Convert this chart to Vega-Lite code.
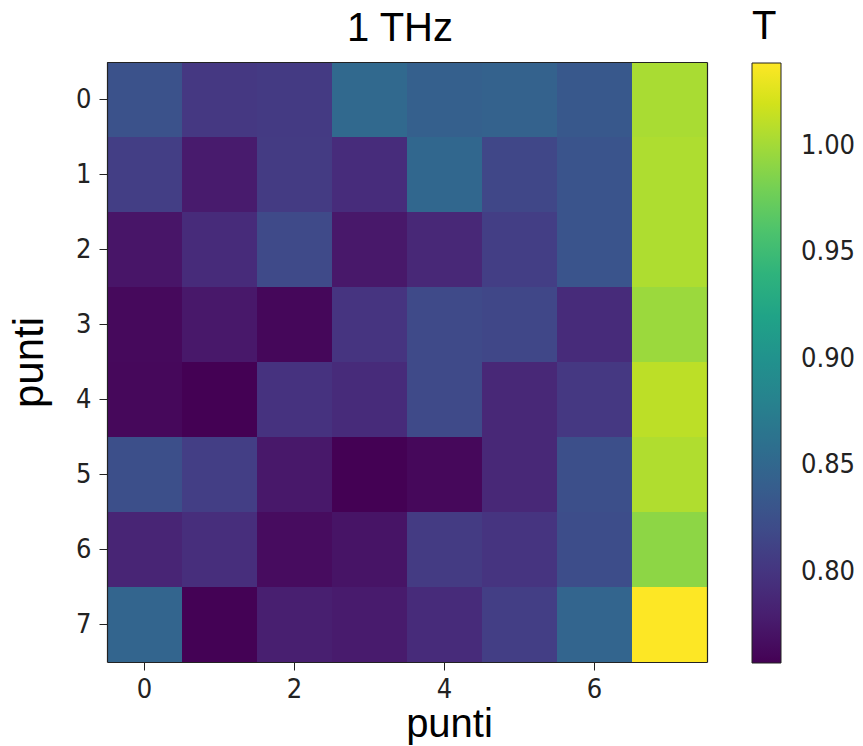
{
  "$schema": "https://vega.github.io/schema/vega-lite/v6.json",
  "width": 600,
  "height": 600,
  "autosize": {"type": "none"},
  "padding": {"left": 107, "top": 62, "right": 156, "bottom": 84},
  "background": "white",
  "title": {"text": "1 THz", "font": "Liberation Sans", "fontSize": 40, "fontWeight": "normal", "color": "#000", "offset": -42, "dx": -7},
  "config": {
    "view": {"stroke": null},
    "axis": {"labelFont": "DejaVu Sans Condensed, DejaVu Sans", "labelFontSize": 27, "labelColor": "#222", "tickColor": "#222", "tickSize": 8, "domain": true, "domainColor": "#222", "domainWidth": 1.2, "grid": false, "titleFont": "Liberation Sans", "titleFontSize": 42, "titleFontWeight": "normal", "titleColor": "#000"}
  },
  "data": {"values": [
    {"x":0,"y":0,"T":0.827},{"x":1,"y":0,"T":0.802},{"x":2,"y":0,"T":0.804},{"x":3,"y":0,"T":0.852},{"x":4,"y":0,"T":0.842},{"x":5,"y":0,"T":0.844},{"x":6,"y":0,"T":0.834},{"x":7,"y":0,"T":1.003},
    {"x":0,"y":1,"T":0.808},{"x":1,"y":1,"T":0.777},{"x":2,"y":1,"T":0.805},{"x":3,"y":1,"T":0.792},{"x":4,"y":1,"T":0.850},{"x":5,"y":1,"T":0.816},{"x":6,"y":1,"T":0.830},{"x":7,"y":1,"T":1.005},
    {"x":0,"y":2,"T":0.772},{"x":1,"y":2,"T":0.791},{"x":2,"y":2,"T":0.819},{"x":3,"y":2,"T":0.774},{"x":4,"y":2,"T":0.788},{"x":5,"y":2,"T":0.808},{"x":6,"y":2,"T":0.830},{"x":7,"y":2,"T":1.005},
    {"x":0,"y":3,"T":0.763},{"x":1,"y":3,"T":0.774},{"x":2,"y":3,"T":0.761},{"x":3,"y":3,"T":0.799},{"x":4,"y":3,"T":0.819},{"x":5,"y":3,"T":0.816},{"x":6,"y":3,"T":0.791},{"x":7,"y":3,"T":0.997},
    {"x":0,"y":4,"T":0.762},{"x":1,"y":4,"T":0.757},{"x":2,"y":4,"T":0.797},{"x":3,"y":4,"T":0.791},{"x":4,"y":4,"T":0.819},{"x":5,"y":4,"T":0.788},{"x":6,"y":4,"T":0.802},{"x":7,"y":4,"T":1.011},
    {"x":0,"y":5,"T":0.824},{"x":1,"y":5,"T":0.808},{"x":2,"y":5,"T":0.774},{"x":3,"y":5,"T":0.757},{"x":4,"y":5,"T":0.762},{"x":5,"y":5,"T":0.788},{"x":6,"y":5,"T":0.824},{"x":7,"y":5,"T":1.006},
    {"x":0,"y":6,"T":0.785},{"x":1,"y":6,"T":0.794},{"x":2,"y":6,"T":0.765},{"x":3,"y":6,"T":0.771},{"x":4,"y":6,"T":0.805},{"x":5,"y":6,"T":0.799},{"x":6,"y":6,"T":0.822},{"x":7,"y":6,"T":0.991},
    {"x":0,"y":7,"T":0.847},{"x":1,"y":7,"T":0.758},{"x":2,"y":7,"T":0.780},{"x":3,"y":7,"T":0.777},{"x":4,"y":7,"T":0.791},{"x":5,"y":7,"T":0.808},{"x":6,"y":7,"T":0.847},{"x":7,"y":7,"T":1.039}
  ]},
  "resolve": {"axis": {"x": "independent", "y": "independent"}},
  "layer": [
    {
      "mark": {"type": "rect"},
      "encoding": {
        "x": {"field": "x", "type": "ordinal", "scale": {"paddingInner": 0, "paddingOuter": 0},
              "axis": {"values": [0, 2, 4, 6], "labelAngle": 0, "title": "punti", "labelPadding": 6, "titlePadding": 2, "titleFontSize": 40, "titleX": 342}},
        "y": {"field": "y", "type": "ordinal", "scale": {"paddingInner": 0, "paddingOuter": 0},
              "axis": {"title": "punti", "labelPadding": 8, "titlePadding": 24}},
        "color": {"field": "T", "type": "quantitative",
                  "scale": {"scheme": "viridis", "domain": [0.757, 1.039]},
                  "legend": {"title": "T", "orient": "none", "legendX": 645, "legendY": -55,
                             "titleFont": "Liberation Sans", "titleFontSize": 40, "titleFontWeight": "normal", "titleColor": "#000", "titlePadding": 16,
                             "gradientLength": 600, "gradientThickness": 29, "gradientStrokeColor": "#222", "gradientStrokeWidth": 1,
                             "values": [0.8, 0.85, 0.9, 0.95, 1.0], "format": ".2f",
                             "labelFont": "DejaVu Sans Condensed, DejaVu Sans", "labelFontSize": 27, "labelColor": "#222", "labelOffset": 20}}
      }
    },
    {
      "mark": {"type": "rect", "opacity": 0},
      "encoding": {
        "x": {"field": "x", "type": "ordinal", "axis": {"orient": "top", "labels": false, "ticks": false, "title": null}},
        "y": {"field": "y", "type": "ordinal", "axis": {"orient": "right", "labels": false, "ticks": false, "title": null}}
      }
    }
  ]
}
